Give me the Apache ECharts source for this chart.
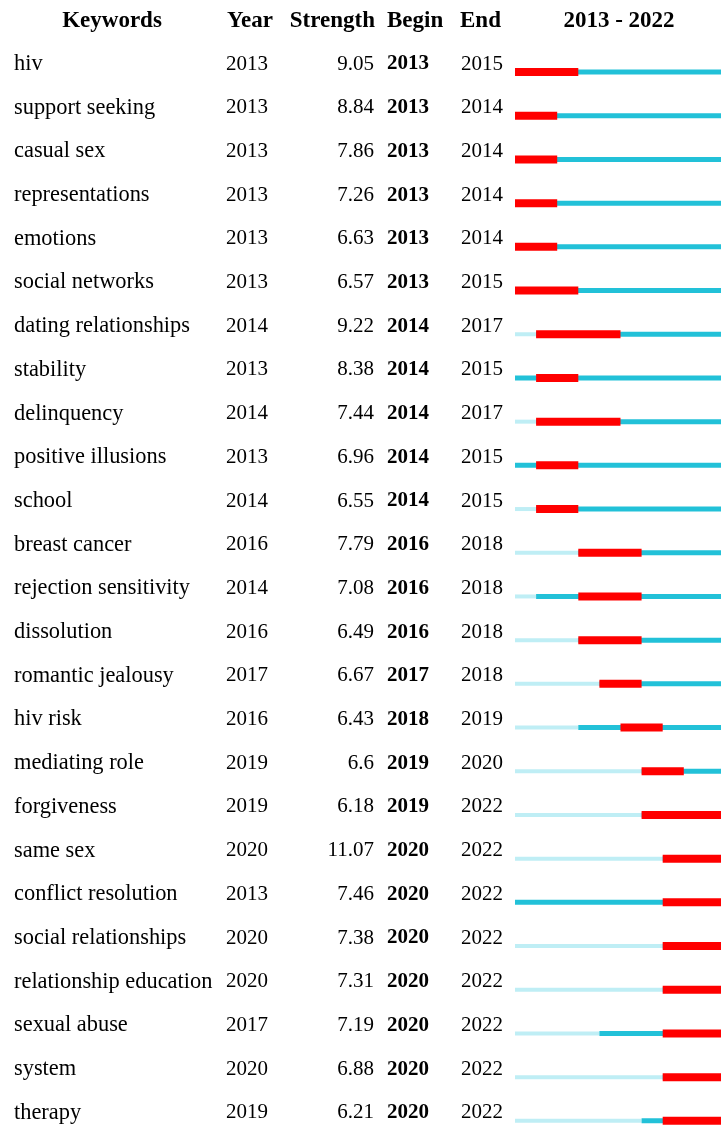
<!DOCTYPE html>
<html>
<head>
<meta charset="utf-8">
<script src="https://cdn.jsdelivr.net/npm/echarts@6/dist/echarts.min.js"></script>
<style>html,body{margin:0;padding:0;background:#fff}#c{width:721px;height:1126px}</style>
</head>
<body>
<div id="c"></div>
<script>
const keywords = ['hiv','support seeking','casual sex','representations','emotions','social networks','dating relationships','stability','delinquency','positive illusions','school','breast cancer','rejection sensitivity','dissolution','romantic jealousy','hiv risk','mediating role','forgiveness','same sex','conflict resolution','social relationships','relationship education','sexual abuse','system','therapy'];
const years = [2013,2013,2013,2013,2013,2013,2014,2013,2014,2013,2014,2016,2014,2016,2017,2016,2019,2019,2020,2013,2020,2020,2017,2020,2019];
const strengths = [9.05,8.84,7.86,7.26,6.63,6.57,9.22,8.38,7.44,6.96,6.55,7.79,7.08,6.49,6.67,6.43,6.6,6.18,11.07,7.46,7.38,7.31,7.19,6.88,6.21];
const begins = [2013,2013,2013,2013,2013,2013,2014,2014,2014,2014,2014,2016,2016,2016,2017,2018,2019,2019,2020,2020,2020,2020,2020,2020,2020];
const ends = [2015,2014,2014,2014,2014,2015,2017,2015,2017,2015,2015,2018,2018,2018,2018,2019,2020,2022,2022,2022,2022,2022,2022,2022,2022];
const headers = ['Keywords','Year','Strength','Begin','End','2013 - 2022'];
const rangeStart = 2013, rangeEnd = 2022;

const FONT = "'Liberation Serif','Times New Roman',serif";
const chart = echarts.init(document.getElementById('c'), null, {renderer:'canvas'});
const idx = keywords.map((_, i) => i);
function labelAxis(data, margin, align, extra) {
  return {
    type:'category', data: data, inverse:true, gridIndex:0, position:'left',
    axisLine:{show:false}, axisTick:{show:false}, splitLine:{show:false},
    axisLabel:Object.assign({interval:0, margin:margin, align:align, verticalAlign:'bottom',
      lineHeight:16, fontFamily:FONT, fontSize:21, color:'#000'}, extra||{})
  };
}
const rows = idx.map(i => [i, years[i], begins[i], ends[i]]);
const hdrFont = {fontFamily:FONT, fontSize:23, fontWeight:'bold', fill:'#000'};
chart.setOption({
  animation:false,
  grid:{left:515, top:50.2, width:211, height:1092.5, containLabel:false, outerBoundsMode:'none'},
  xAxis:{type:'value', min:rangeStart, max:rangeEnd+1, show:false},
  yAxis:[
    labelAxis(idx, 501, 'left', {formatter:(v)=>keywords[v], fontSize:22.4}),
    labelAxis(years.map(String), 289, 'left'),
    labelAxis(strengths.map(String), 141, 'right'),
    labelAxis(begins.map(String), 128, 'left', {fontWeight:'bold'}),
    labelAxis(ends.map(String), 54, 'left')
  ],
  graphic:[
    {type:'text', x:112, y:10, style:Object.assign({text:headers[0], align:'center'}, hdrFont)},
    {type:'text', x:227, y:10, style:Object.assign({text:headers[1]}, hdrFont)},
    {type:'text', x:375, y:10, style:Object.assign({text:headers[2], align:'right'}, hdrFont)},
    {type:'text', x:387, y:10, style:Object.assign({text:headers[3]}, hdrFont)},
    {type:'text', x:460, y:10, style:Object.assign({text:headers[4]}, hdrFont)},
    {type:'text', x:619, y:10, style:Object.assign({text:headers[5], align:'center'}, hdrFont)}
  ],
  series:[{
    type:'custom', xAxisIndex:0, yAxisIndex:0,
    encode:{x:[1,2,3], y:0},
    data: rows,
    renderItem:function(params, api){
      const r = api.value(0), yr = api.value(1), b = api.value(2), e = api.value(3);
      const p0 = api.coord([rangeStart, r]);
      const py = api.coord([yr, r]);
      const pEnd = api.coord([rangeEnd+1, r]);
      const pb = api.coord([b, r]);
      const pe = api.coord([e+1, r]);
      const y = p0[1];
      const children = [];
      if (py[0] > p0[0]) children.push({type:'rect', shape:{x:p0[0], y:y-2, width:py[0]-p0[0], height:4}, style:{fill:'#bfeef5'}});
      children.push({type:'rect', shape:{x:py[0], y:y-2.5, width:pEnd[0]-py[0], height:5}, style:{fill:'#22c1d8'}});
      children.push({type:'rect', shape:{x:pb[0], y:y-4, width:pe[0]-pb[0], height:8}, style:{fill:'#ff0000'}});
      return {type:'group', children:children};
    }
  }]
});
</script>
</body>
</html>
